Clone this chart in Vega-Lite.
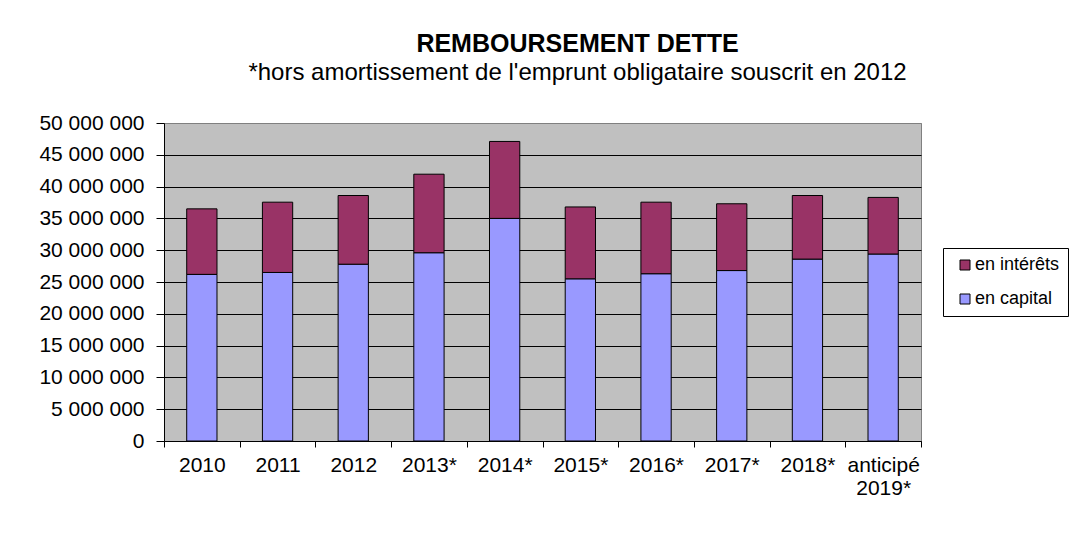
{
  "$schema": "https://vega.github.io/schema/vega-lite/v6.json",
  "width": 757,
  "height": 318,
  "autosize": {"type": "none"},
  "padding": {"left": 164, "top": 123, "right": 156, "bottom": 93},
  "background": "white",
  "title": {
    "text": "REMBOURSEMENT DETTE",
    "subtitle": "*hors amortissement de l'emprunt obligataire  souscrit en 2012",
    "anchor": "middle",
    "frame": "group",
    "dx": 35,
    "offset": 27,
    "font": "Liberation Sans",
    "fontSize": 25,
    "fontWeight": "bold",
    "color": "black",
    "subtitleFont": "Liberation Sans",
    "subtitleFontSize": 24,
    "subtitleColor": "black",
    "subtitlePadding": 4
  },
  "data": {
    "values": [
      {"annee": "2010", "type": "en capital", "montant": 26200000, "rang": 1},
      {"annee": "2010", "type": "en intérêts", "montant": 10300000, "rang": 2},
      {"annee": "2011", "type": "en capital", "montant": 26500000, "rang": 1},
      {"annee": "2011", "type": "en intérêts", "montant": 11050000, "rang": 2},
      {"annee": "2012", "type": "en capital", "montant": 27800000, "rang": 1},
      {"annee": "2012", "type": "en intérêts", "montant": 10800000, "rang": 2},
      {"annee": "2013*", "type": "en capital", "montant": 29600000, "rang": 1},
      {"annee": "2013*", "type": "en intérêts", "montant": 12350000, "rang": 2},
      {"annee": "2014*", "type": "en capital", "montant": 35000000, "rang": 1},
      {"annee": "2014*", "type": "en intérêts", "montant": 12100000, "rang": 2},
      {"annee": "2015*", "type": "en capital", "montant": 25500000, "rang": 1},
      {"annee": "2015*", "type": "en intérêts", "montant": 11300000, "rang": 2},
      {"annee": "2016*", "type": "en capital", "montant": 26300000, "rang": 1},
      {"annee": "2016*", "type": "en intérêts", "montant": 11250000, "rang": 2},
      {"annee": "2017*", "type": "en capital", "montant": 26800000, "rang": 1},
      {"annee": "2017*", "type": "en intérêts", "montant": 10500000, "rang": 2},
      {"annee": "2018*", "type": "en capital", "montant": 28600000, "rang": 1},
      {"annee": "2018*", "type": "en intérêts", "montant": 10000000, "rang": 2},
      {"annee": "anticipé 2019*", "type": "en capital", "montant": 29400000, "rang": 1},
      {"annee": "anticipé 2019*", "type": "en intérêts", "montant": 8900000, "rang": 2}
    ]
  },
  "mark": {"type": "bar", "width": {"band": 0.4}, "stroke": "black", "strokeWidth": 1},
  "encoding": {
    "x": {
      "field": "annee",
      "type": "nominal",
      "sort": null,
      "scale": {"paddingInner": 0, "paddingOuter": 0},
      "axis": {
        "title": null,
        "labelAngle": 0,
        "tickBand": "extent",
        "labelFont": "Liberation Sans",
        "labelFontSize": 21,
        "labelColor": "black",
        "labelPadding": 7,
        "labelLineHeight": 23,
        "labelExpr": "datum.value == 'anticipé 2019*' ? ['anticipé', '2019*'] : datum.label",
        "tickSize": 6,
        "tickColor": "black",
        "domainColor": "black",
        "grid": false
      }
    },
    "y": {
      "field": "montant",
      "type": "quantitative",
      "aggregate": "sum",
      "stack": "zero",
      "scale": {"domain": [0, 50000000], "nice": false},
      "axis": {
        "title": null,
        "values": [0, 5000000, 10000000, 15000000, 20000000, 25000000, 30000000, 35000000, 40000000, 45000000, 50000000],
        "format": ",d",
        "labelFont": "Liberation Sans",
        "labelFontSize": 21,
        "labelColor": "black",
        "labelPadding": 12,
        "tickSize": 8,
        "tickColor": "black",
        "domainColor": "black",
        "grid": true,
        "gridColor": {"condition": {"test": "datum.value == 50000000", "value": "#808080"}, "value": "black"},
        "gridOpacity": 1,
        "gridWidth": 1
      }
    },
    "color": {
      "field": "type",
      "type": "nominal",
      "scale": {"domain": ["en intérêts", "en capital"], "range": ["#993366", "#9999FF"]},
      "legend": {
        "title": null,
        "orient": "none",
        "legendX": 779,
        "legendY": 125,
        "direction": "vertical",
        "fillColor": "white",
        "strokeColor": "black",
        "padding": 8,
        "symbolType": "square",
        "symbolSize": 100,
        "symbolStrokeColor": "black",
        "symbolStrokeWidth": 1,
        "symbolOpacity": 1,
        "symbolOffset": 5,
        "labelFont": "Liberation Sans",
        "labelFontSize": 18,
        "labelColor": "black",
        "labelOffset": 1,
        "rowPadding": 16
      }
    },
    "order": {"field": "rang", "type": "quantitative"}
  },
  "config": {
    "locale": {
      "number": {"decimal": ",", "thousands": " ", "grouping": [3], "currency": ["", " €"]}
    },
    "view": {"fill": "#C0C0C0", "stroke": "#808080"},
    "axis": {"domainWidth": 1, "tickWidth": 1}
  }
}
